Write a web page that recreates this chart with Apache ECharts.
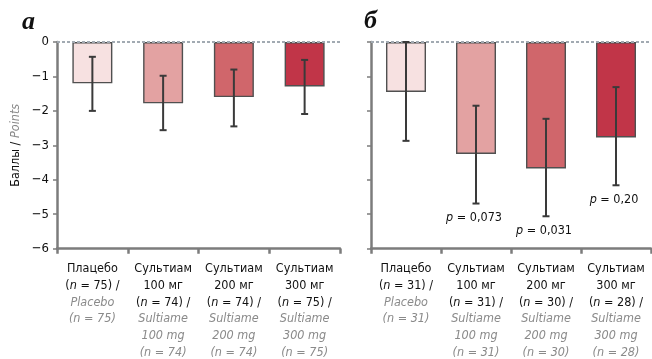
<!DOCTYPE html>
<html>
<head>
<meta charset="utf-8">
<script src="https://cdn.jsdelivr.net/npm/echarts@6/dist/echarts.min.js"></script>
<style>html,body{margin:0;padding:0;background:#fff}#c{width:652px;height:359px}</style>
</head>
<body>
<div id="c"></div>
<script>
// ---- data ----
var ruNames = ['Плацебо', 'Сультиам\n100 мг', 'Сультиам\n200 мг', 'Сультиам\n300 мг'];
var enNames = ['Placebo', 'Sultiame\n100 mg', 'Sultiame\n200 mg', 'Sultiame\n300 mg'];
var nA = [75, 74, 74, 75];
var nB = [31, 31, 30, 28];
var meanA = [-1.2, -1.78, -1.6, -1.29];
var lowA = [-2.0, -2.56, -2.45, -2.09];
var highA = [-0.43, -0.98, -0.8, -0.52];
var meanB = [-1.45, -3.25, -3.67, -2.77];
var lowB = [-2.87, -4.69, -5.06, -4.16];
var highB = [0, -1.85, -2.23, -1.31];
var pB = ['', 'p = 0,073', 'p = 0,031', 'p = 0,20'];
var barColors = ['#f7e1e1', '#e3a2a2', '#d0666b', '#c13548'];
var yTicks = [0, -1, -2, -3, -4, -5, -6];

// pick the narrowest installed condensed font
function pickFont() {
  var cands = ['Liberation Sans Narrow', 'DejaVu Sans Condensed', 'Roboto Condensed', 'Open Sans Condensed', 'Noto Sans Condensed'];
  var cv = document.createElement('canvas').getContext('2d');
  var s = 'Сультиам Sultiame 0123';
  cv.font = '13px monospace';
  var base = cv.measureText(s).width;
  for (var i = 0; i < cands.length; i++) {
    cv.font = "13px '" + cands[i] + "', monospace";
    var w = cv.measureText(s).width;
    if (Math.abs(w - base) > 0.5) return "'" + cands[i] + "', sans-serif";
  }
  return "'DejaVu Sans Condensed', sans-serif";
}
var FONT = pickFont();
var FS = 12.5;

function catLabels(n) {
  return ruNames.map(function (r, i) {
    var ru = r.split('\n').map(function (s) { return '{b|' + s + '}'; }).join('\n');
    var en = enNames[i].split('\n').map(function (s) { return '{g|' + s + '}'; }).join('\n');
    return ru + '\n{b|(}{i|n}{b| = ' + n[i] + ') /}\n' + en + '\n{g|(n = ' + n[i] + ')}';
  });
}

var rich = {
  b: { fontFamily: FONT, fontSize: FS, color: '#111', lineHeight: 16.7 },
  i: { fontFamily: FONT, fontSize: FS, color: '#111', fontStyle: 'italic', lineHeight: 16.7 },
  g: { fontFamily: FONT, fontSize: FS, color: '#8a8a8a', fontStyle: 'italic', lineHeight: 16.7 }
};

function xAxis(idx, n) {
  return {
    type: 'category', gridIndex: idx, data: catLabels(n),
    axisLine: { onZero: false, lineStyle: { color: '#7c7c7c', width: 2.5 } },
    axisTick: { show: true, length: 5, lineStyle: { color: '#7c7c7c', width: 2.5 } },
    axisLabel: { interval: 0, margin: 12, rich: rich, formatter: function (v) { return v; } },
    position: 'bottom'
  };
}
function yAxis(idx, showLabels) {
  return {
    type: 'value', gridIndex: idx, min: yTicks[yTicks.length - 1], max: yTicks[0], interval: 1,
    splitLine: { show: false },
    axisLine: { show: true, onZero: false, lineStyle: { color: '#7c7c7c', width: 2.5 } },
    axisTick: { show: true, length: 4, lineStyle: { color: '#7c7c7c', width: 1.5 } },
    axisLabel: { show: showLabels, margin: 8, fontFamily: FONT, fontSize: 13, color: '#111',
      formatter: function (v) { return String(v).replace('-', '\u2212'); } },
    name: showLabels ? '{a|Баллы / }{p|Points}' : '',
    nameLocation: 'middle', nameRotate: 90, nameGap: 35,
    nameTextStyle: { rich: {
      a: { fontFamily: FONT, fontSize: FS, color: '#111' },
      p: { fontFamily: FONT, fontSize: FS, color: '#8a8a8a', fontStyle: 'italic' } } }
  };
}

function errSeries(idx, low, high, labels) {
  return {
    type: 'custom', xAxisIndex: idx, yAxisIndex: idx, z: 5,
    data: low.map(function (l, i) { return [i, l, high[i]]; }),
    renderItem: function (params, api) {
      var i = api.value(0);
      var lo = api.coord([i, api.value(1)]);
      var hi = api.coord([i, api.value(2)]);
      var x = lo[0], cw = 3.5;
      var st = { stroke: '#3a3a3a', lineWidth: 2 };
      var ch = [
        { type: 'line', shape: { x1: x, y1: hi[1], x2: x, y2: lo[1] }, style: st },
        { type: 'line', shape: { x1: x - cw, y1: hi[1], x2: x + cw, y2: hi[1] }, style: st },
        { type: 'line', shape: { x1: x - cw, y1: lo[1], x2: x + cw, y2: lo[1] }, style: st }
      ];
      if (labels && labels[i]) {
        var t = labels[i].replace(/^p/, '');
        ch.push({ type: 'text', x: x - 2, y: lo[1] + 14, style: {
          text: '{i|p}{b|' + t + '}', align: 'center', verticalAlign: 'middle',
          rich: { i: { fontFamily: FONT, fontSize: FS, fontStyle: 'italic', fill: '#111' },
                  b: { fontFamily: FONT, fontSize: FS, fill: '#111' } } } });
      }
      return { type: 'group', children: ch };
    }
  };
}

function barSeries(idx, vals) {
  return {
    type: 'bar', xAxisIndex: idx, yAxisIndex: idx, barWidth: 40,
    data: vals.map(function (v, i) {
      return { value: v, itemStyle: { color: barColors[i], borderColor: '#505050', borderWidth: 1.4 } };
    }),
    markLine: {
      silent: true, symbol: 'none', label: { show: false },
      lineStyle: { color: '#a2aab2', type: [3, 2], width: 2 },
      data: [{ yAxis: 0 }]
    }
  };
}

var chart = echarts.init(document.getElementById('c'), null, { renderer: 'canvas' });
chart.setOption({
  animation: false,
  title: [
    { text: 'а', left: 17, top: 4, textStyle: { fontFamily: "'Liberation Serif', serif", fontStyle: 'italic', fontWeight: 'bold', fontSize: 26, color: '#111' } },
    { text: 'б', left: 359, top: 3, textStyle: { fontFamily: "'Liberation Serif', serif", fontStyle: 'italic', fontWeight: 'bold', fontSize: 26, color: '#111' } }
  ],
  grid: [
    { left: 57, top: 42, width: 283, height: 210 },
    { left: 371, top: 42, width: 280, height: 210 }
  ],
  xAxis: [xAxis(0, nA), xAxis(1, nB)],
  yAxis: [yAxis(0, true), yAxis(1, false)],
  series: [
    barSeries(0, meanA), errSeries(0, lowA, highA, null),
    barSeries(1, meanB), errSeries(1, lowB, highB, pB)
  ]
});
</script>
</body>
</html>
